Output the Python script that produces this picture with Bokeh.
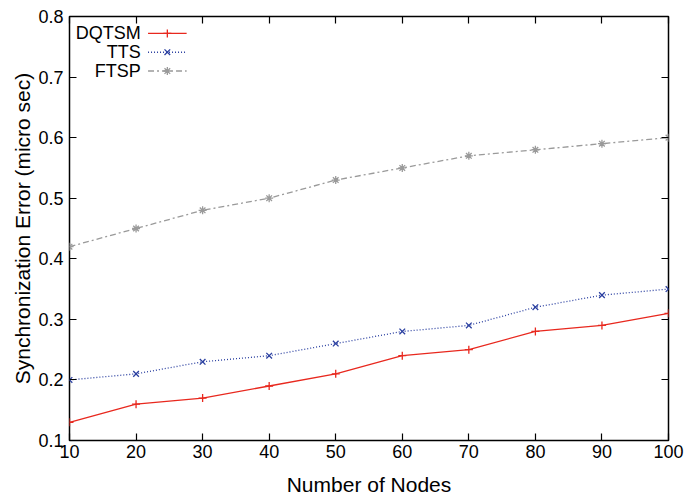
from bokeh.plotting import figure
from bokeh.models import (LinearAxis, Range1d, FixedTicker, Label, PrintfTickFormatter,
                          CustomLabelingPolicy)
from bokeh.embed import file_html
from bokeh.resources import INLINE

nodes = [10, 20, 30, 40, 50, 60, 70, 80, 90, 100]
dqtsm = [0.13, 0.16, 0.17, 0.19, 0.21, 0.24, 0.25, 0.28, 0.29, 0.31]
tts = [0.20, 0.21, 0.23, 0.24, 0.26, 0.28, 0.29, 0.32, 0.34, 0.35]
ftsp = [0.42, 0.45, 0.48, 0.50, 0.53, 0.55, 0.57, 0.58, 0.59, 0.60]
x_ticks = [10, 20, 30, 40, 50, 60, 70, 80, 90, 100]
y_ticks = [0.1, 0.2, 0.3, 0.4, 0.5, 0.6, 0.7, 0.8]
names = ["DQTSM", "TTS", "FTSP"]

RED = "#e8281e"
BLUE = "#2a3fa0"
GRAY = "#9a9a9a"
FONT = "Liberation Sans"

p = figure(width=684, height=498, output_backend="svg", toolbar_location=None,
           x_range=Range1d(10, 100), y_range=Range1d(0.1, 0.8),
           min_border_left=69, min_border_right=16, min_border_top=16, min_border_bottom=57,
           x_axis_location=None, y_axis_location=None)
p.grid.visible = False
p.outline_line_color = "black"
p.outline_line_width = 1.5
p.background_fill_color = "white"
p.border_fill_color = "white"

hide = CustomLabelingPolicy(code="return new Set()")

def style(ax, ticks, show_labels):
    ax.ticker = FixedTicker(ticks=ticks)
    ax.major_tick_in = 7
    ax.major_tick_out = 0
    ax.minor_tick_line_color = None
    ax.axis_line_color = None
    ax.major_tick_line_color = "black"
    ax.major_tick_line_width = 1.2
    ax.major_label_text_font = FONT
    ax.major_label_text_color = "black"
    ax.major_label_text_font_size = "18px"
    ax.axis_label_text_font = FONT
    ax.axis_label_text_font_size = "21px"
    ax.axis_label_text_font_style = "normal"
    ax.axis_label_text_color = "black"
    if not show_labels:
        ax.major_label_policy = hide
        ax.major_label_standoff = 0
        ax.major_label_text_font_size = "1px"

xb = LinearAxis(axis_label="Number of Nodes")
style(xb, x_ticks, True)
xb.major_label_standoff = 4
xb.axis_label_standoff = 12
p.add_layout(xb, "below")

xt = LinearAxis()
style(xt, x_ticks, False)
p.add_layout(xt, "above")

yl = LinearAxis(axis_label="Synchronization Error (micro sec)")
style(yl, y_ticks, True)
yl.formatter = PrintfTickFormatter(format="%.1f")
yl.major_label_standoff = 6
yl.axis_label_standoff = 1
p.add_layout(yl, "left")

yr = LinearAxis()
style(yr, y_ticks, False)
p.add_layout(yr, "right")

series = [
    (dqtsm, RED, "solid", "cross"),
    (tts, BLUE, "1 2", "x"),
    (ftsp, GRAY, "6 3 2 3", "asterisk"),
]
for vals, col, dash, mk in series:
    p.line(nodes, vals, line_color=col, line_width=1.3, line_dash=dash)
    p.scatter(nodes, vals, marker=mk, size=8, line_color=col, line_width=1.3)

# legend (gnuplot style: right aligned text, then sample)
leg_y = [0.772, 0.741, 0.710]
for name, (vals, col, dash, mk), yy in zip(names, series, leg_y):
    p.add_layout(Label(x=21.3, y=yy, text=name, text_align="right", text_baseline="middle",
                       text_font=FONT, text_font_size="18px", text_color="black",
                       x_offset=-4))
    p.line([21.8, 27.6], [yy, yy], line_color=col, line_width=1.3, line_dash=dash)
    p.scatter([24.7], [yy], marker=mk, size=8, line_color=col, line_width=1.3)

open("out.html", "w").write(file_html(p, INLINE))
